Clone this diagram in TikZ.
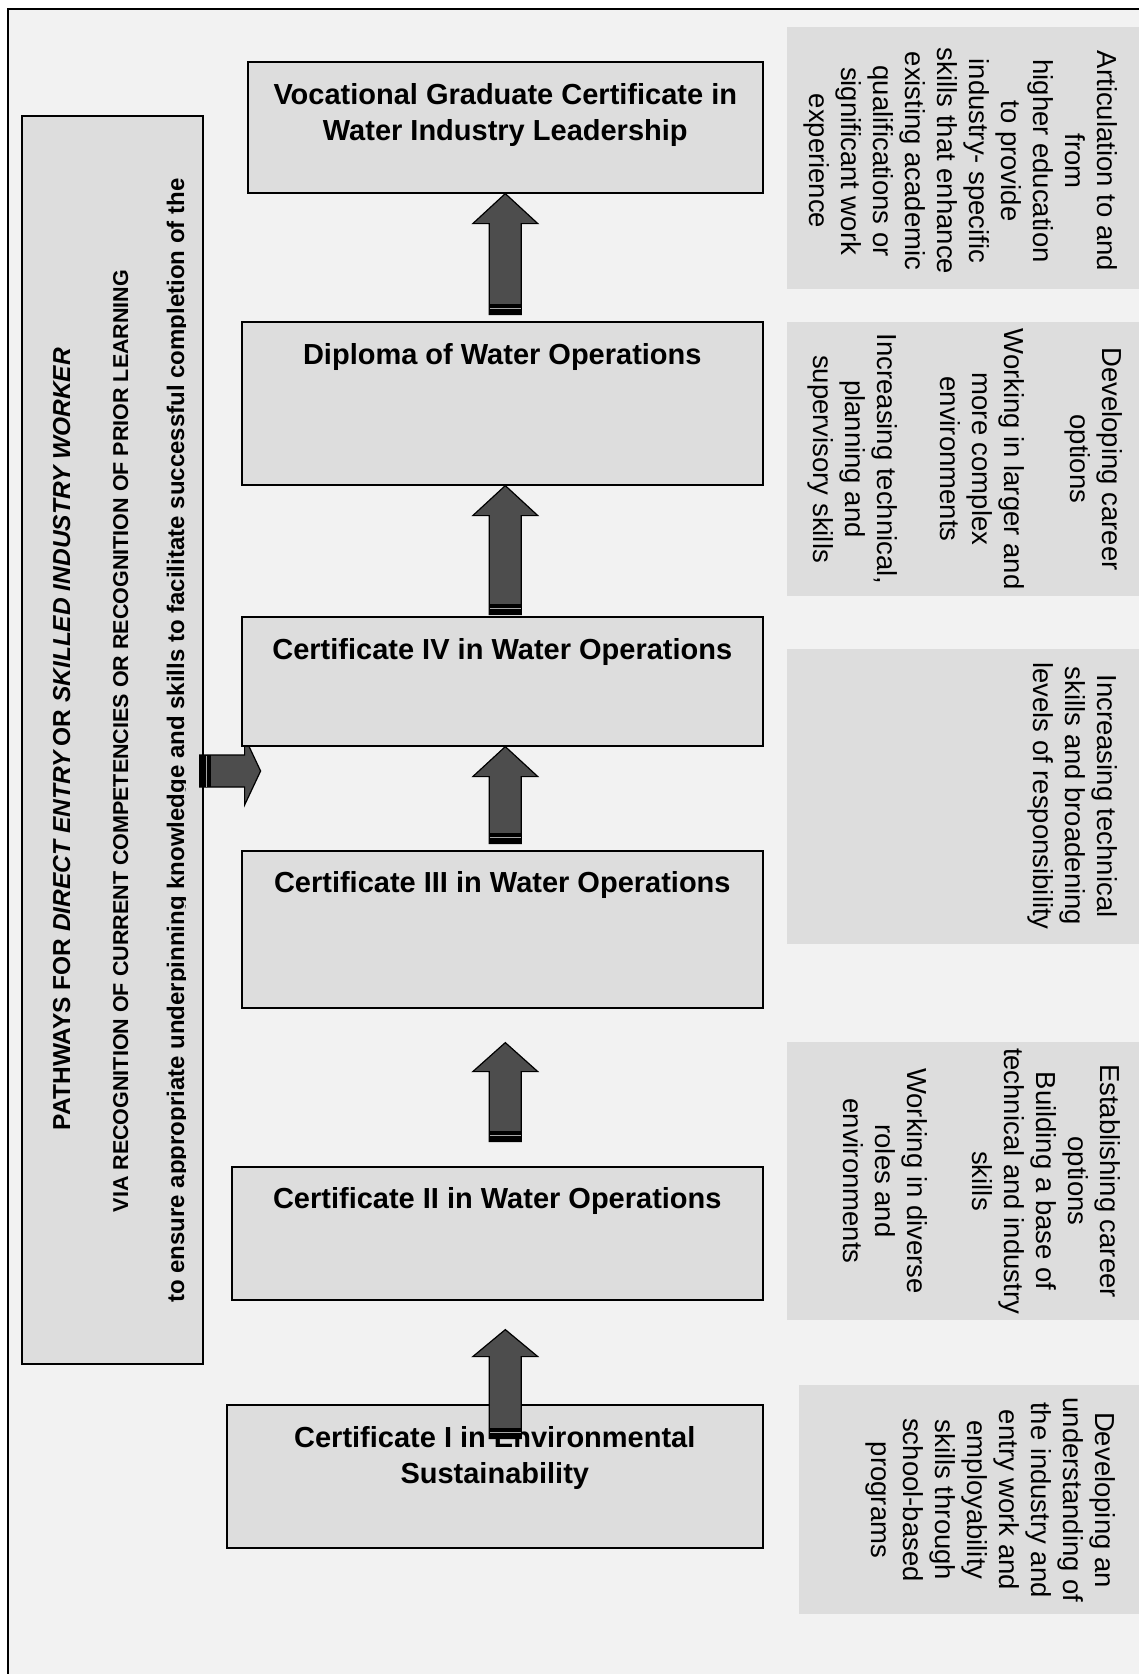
\documentclass[tikz,border=0pt]{standalone}
\usepackage{fontspec}
\setmainfont{Liberation Sans}
\usetikzlibrary{calc}
\definecolor{bgc}{HTML}{F2F2F2}
\definecolor{boxc}{HTML}{DDDDDD}
\definecolor{arrc}{HTML}{4D4D4D}
% #1 tip coordinate, #2 total length, #3 head length
\newcommand\uparr[3]{%
  \path[arrowbody] (#1) -- ++(32.5,#3) -- ++(-16.5,0) -- ++(0,#2-#3) -- ++(-32,0) -- ++(0,#3-#2) -- ++(-16.5,0) -- cycle;
  \fill[black] ($(#1)+(-16,#2-11)$) rectangle ($(#1)+(16,#2)$);
  \draw[stripline] ($(#1)+(-15.5,#2-6.5)$) -- ($(#1)+(15.5,#2-6.5)$);
}
\begin{document}
\begin{tikzpicture}[x=1pt,y=-1pt,
  qbox/.style={draw=black, line width=1.6pt, fill=boxc, anchor=north west, inner sep=0pt},
  sidebox/.style={fill=boxc, anchor=north west, inner sep=0pt},
  titletext/.style={font=\bfseries\fontsize{29pt}{36pt}\selectfont, align=center, inner sep=0pt, anchor=north},
  sidetext/.style={font=\fontsize{27.5pt}{32pt}\selectfont, align=center, inner sep=0pt, rotate=-90, anchor=north},
  arrowbody/.style={fill=arrc, draw=black, line width=1.2pt, line join=miter},
  stripline/.style={draw=gray!70, line width=1.2pt}]

\useasboundingbox (0,0) rectangle (1139,1674);
\fill[white] (0,0) rectangle (1139,1674);
\fill[bgc] (7.5,9) rectangle (1139,1674);
\draw[line width=2pt] (1139,9) -- (7.5,9) -- (7.5,1674);

% right-hand descriptive panels
\node[sidebox, minimum width=352pt, minimum height=262pt] (r1) at (787,27) {};
\node[sidebox, minimum width=352pt, minimum height=274pt] (r2) at (787,322) {};
\node[sidebox, minimum width=352pt, minimum height=295pt] (r3) at (787,649) {};
\node[sidebox, minimum width=352pt, minimum height=278pt] (r4) at (787,1042) {};
\node[sidebox, minimum width=340pt, minimum height=229pt] (r5) at (799,1385) {};

\node[sidetext] (r1T) at (1118,161) {Articulation to and\\from\\higher education\\to provide\\industry- specific\\skills that enhance\\existing academic\\qualifications or\\significant work\\experience};
\node[sidetext] (r2T) at (1123,459) {Developing career\\options\\[34pt]Working in larger and\\more complex\\environments\\[31pt]Increasing technical,\\planning and\\supervisory skills};
\node[sidetext] (r3T) at (1118,796) {Increasing technical\\skills and broadening\\levels of responsibility};
\node[sidetext] (r4T) at (1121,1181) {Establishing career\\options\\Building a base of\\technical and industry\\skills\\[33pt]Working in diverse\\roles and\\environments};
\node[sidetext] (r5T) at (1116,1500) {Developing an\\understanding of\\the industry and\\entry work and\\employability\\skills through\\school-based\\programs};

% pathways panel
\node[qbox, minimum width=181pt, minimum height=1248pt] (path) at (21,115) {};
\node[rotate=90, anchor=base, inner sep=0pt, font=\bfseries\fontsize{24.5pt}{29pt}\selectfont] (pathL1) at (70,739) {PATHWAYS FOR \textit{DIRECT ENTRY}\hspace{3pt}OR \textit{SKILLED INDUSTRY WORKER}};
\node[rotate=90, anchor=base, inner sep=0pt, font=\bfseries\fontsize{21.5pt}{26pt}\selectfont] (pathL2) at (128,741) {VIA RECOGNITION OF CURRENT COMPETENCIES OR RECOGNITION OF PRIOR LEARNING};
\begin{scope}
  \clip (22,178) rectangle (185,1340);
  \node[rotate=90, anchor=base west, inner sep=0pt, font=\bfseries\fontsize{24pt}{29pt}\selectfont] (pathL3) at (184,1303) {to ensure appropriate underpinning knowledge and skills to facilitate successful completion of the};
\end{scope}

% entry arrow (partly under Certificate IV box)
\coordinate (h0) at (path.east |- 0,771);
\path[arrowbody] ($(h0)+(-4,-16)$) -- ++(45,0) -- ++(0,-18) -- ++(16,34) -- ++(-16,34) -- ++(0,-18) -- ++(-45,0) -- cycle;
\fill[black] ($(h0)+(-4,-16)$) rectangle ($(h0)+(7,16)$);
\draw[stripline] ($(h0)+(2.5,-15.5)$) -- ($(h0)+(2.5,15.5)$);

% qualification boxes
\node[qbox, minimum width=515pt, minimum height=131pt] (voc) at (247,61) {};
\node[qbox, minimum width=521pt, minimum height=163pt] (dip) at (241,321) {};
\node[qbox, minimum width=521pt, minimum height=129pt] (c4) at (241,616) {};
\node[qbox, minimum width=521pt, minimum height=157pt] (c3) at (241,850) {};
\node[qbox, minimum width=531pt, minimum height=133pt] (c2) at (231,1166) {};
\node[qbox, minimum width=536pt, minimum height=143pt] (c1) at (226,1404) {};

\node[titletext] (vocT) at ($(voc.north)+(0,22)$) {Vocational Graduate Certificate in\\Water Industry Leadership};
\node[titletext] (dipT) at ($(dip.north)+(0,22)$) {Diploma of Water Operations};
\node[titletext] (c4T) at ($(c4.north)+(0,22)$) {Certificate IV in Water Operations};
\node[titletext] (c3T) at ($(c3.north)+(0,21)$) {Certificate III in Water Operations};
\node[titletext] (c2T) at ($(c2.north)+(0,21)$) {Certificate II in Water Operations};
\node[titletext] (c1T) at ($(c1.north)+(0,22)$) {Certificate I in Environmental\\Sustainability};

% progression arrows
\coordinate (a1) at (voc.south);
\coordinate (a2) at (voc.south |- dip.south);
\coordinate (a3) at (voc.south |- c4.south);
\coordinate (a4) at ($(voc.south |- c3.south)+(0,34)$);
\coordinate (a5) at ($(voc.south |- c2.south)+(0,29)$);
\uparr{a1}{121}{30}
\uparr{a2}{129}{30}
\uparr{a3}{97}{30}
\uparr{a4}{99}{29}
\uparr{a5}{109}{27}
\end{tikzpicture}
\end{document}
